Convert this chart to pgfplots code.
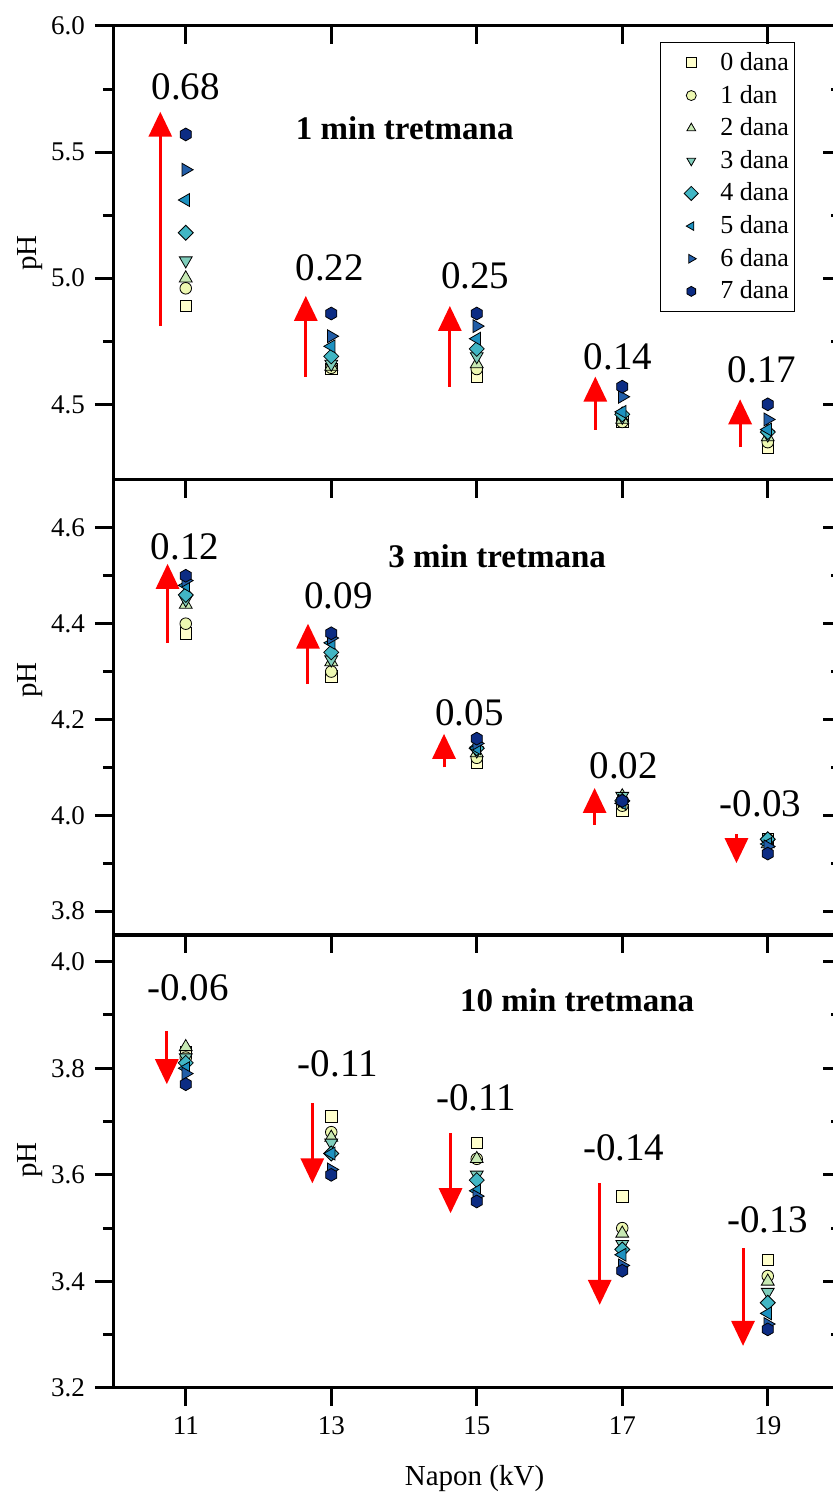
\documentclass[border=0pt]{standalone}
\usepackage{fontspec}
\setmainfont{Liberation Serif}
\usepackage{pgfplots}
\usepackage{pgfplotstable}
\pgfplotsset{compat=1.18}
\usetikzlibrary{arrows.meta}

\definecolor{c0}{HTML}{FFFFCC}
\definecolor{c1}{HTML}{EDF8B1}
\definecolor{c2}{HTML}{C7E9B4}
\definecolor{c3}{HTML}{7FCDBB}
\definecolor{c4}{HTML}{41B6C4}
\definecolor{c5}{HTML}{1D91C0}
\definecolor{c6}{HTML}{225EA8}
\definecolor{c7}{HTML}{0C2C84}

\pgfdeclareplotmark{hexagon*}{%
  \pgfpathmoveto{\pgfqpointpolar{90}{\pgfplotmarksize}}%
  \pgfpathlineto{\pgfqpointpolar{150}{\pgfplotmarksize}}%
  \pgfpathlineto{\pgfqpointpolar{210}{\pgfplotmarksize}}%
  \pgfpathlineto{\pgfqpointpolar{270}{\pgfplotmarksize}}%
  \pgfpathlineto{\pgfqpointpolar{330}{\pgfplotmarksize}}%
  \pgfpathlineto{\pgfqpointpolar{30}{\pgfplotmarksize}}%
  \pgfpathclose
  \pgfusepathqfillstroke}

\pgfplotstableread{
x d0 d1 d2 d3 d4 d5 d6 d7
11 4.89 4.96 5.00 5.07 5.18 5.31 5.43 5.57
13 4.64 4.645 4.65 4.66 4.69 4.73 4.77 4.86
15 4.61 4.64 4.66 4.69 4.72 4.76 4.81 4.86
17 4.43 4.43 4.44 4.45 4.46 4.47 4.53 4.57
19 4.33 4.35 4.37 4.38 4.39 4.40 4.44 4.50
}\tabA
\pgfplotstableread{
x d0 d1 d2 d3 d4 d5 d6 d7
11 4.38 4.40 4.44 4.45 4.46 4.48 4.49 4.50
13 4.29 4.30 4.32 4.325 4.34 4.36 4.37 4.38
15 4.11 4.12 4.13 4.135 4.14 4.14 4.15 4.16
17 4.01 4.02 4.04 4.04 4.03 4.025 4.03 4.03
19 3.95 3.95 3.94 3.94 3.95 3.94 3.935 3.92
}\tabB
\pgfplotstableread{
x d0 d1 d2 d3 d4 d5 d6 d7
11 3.83 3.82 3.84 3.82 3.81 3.80 3.79 3.77
13 3.71 3.68 3.67 3.66 3.64 3.64 3.61 3.60
15 3.66 3.63 3.63 3.60 3.59 3.57 3.56 3.55
17 3.56 3.50 3.49 3.47 3.46 3.45 3.43 3.42
19 3.44 3.41 3.40 3.38 3.36 3.34 3.32 3.31
}\tabC

\tikzset{
  ann/.style={font=\fontsize{19.5}{22}\selectfont},
  ttl/.style={font=\fontsize{16.5}{19}\selectfont\bfseries},
}

\pgfplotsset{
  s0/.style={draw=none, mark=square*, mark size=2.9pt, mark options={fill=c0, draw=black, line width=0.4pt}},
  s1/.style={draw=none, mark=*, mark size=2.9pt, mark options={fill=c1, draw=black, line width=0.4pt}},
  s2/.style={draw=none, mark=triangle*, mark size=3.7pt, mark options={fill=c2, draw=black, line width=0.4pt}},
  s3/.style={draw=none, mark=triangle*, mark size=3.7pt, mark options={fill=c3, draw=black, line width=0.4pt, rotate=180}},
  s4/.style={draw=none, mark=square*, mark size=2.65pt, mark options={fill=c4, draw=black, line width=0.4pt, rotate=45}},
  s5/.style={draw=none, mark=triangle*, mark size=3.7pt, mark options={fill=c5, draw=black, line width=0.4pt, rotate=90}},
  s6/.style={draw=none, mark=triangle*, mark size=3.7pt, mark options={fill=c6, draw=black, line width=0.4pt, rotate=270}},
  s7/.style={draw=none, mark=hexagon*, mark size=3.2pt, mark options={fill=c7, draw=black, line width=0.4pt}},
  arr/.style={red, line width=1.5pt, -{Triangle[width=11.5pt,length=12.5pt]}, forget plot},
  panel/.style={
    scale only axis, width=363.75pt,
    xmin=10, xmax=20,
    xtick={11,13,15,17,19},
    axis line style={line width=1.5pt},
    major tick length=9pt, minor tick length=5pt,
    every tick/.style={line width=1.5pt, black},
    minor y tick num=1,
    tick label style={font=\fontsize{13.5}{15}\selectfont},
    label style={font=\fontsize{14.5}{17}\selectfont},
    /pgf/number format/assume math mode=true,
    clip=false,
  },
  mainax/.style={panel, xtick pos=bottom, ytick pos=left, tick align=outside,
    yticklabel style={xshift=-1.5pt, /pgf/number format/.cd, fixed, fixed zerofill, precision=1},
    xticklabel style={yshift=-2pt}},
  overax/.style={panel, xtick pos=top, ytick pos=right, tick align=inside,
    xticklabels={}, yticklabels={}},
}

\begin{document}
\begin{tikzpicture}
% ---------------- top panel ----------------
\begin{axis}[mainax, at={(56.5pt,509.5pt)}, anchor=south west, height=227pt,
  ymin=4.2, ymax=6.0, ytick={4.5,5.0,5.5,6.0}, xticklabels={},
  ylabel={pH}, ylabel style={at={(axis description cs:-0.114,0.5)}, anchor=center},
  legend style={at={(0.938,0.965)}, anchor=north east, draw=black, line width=0.5pt,
    font=\fontsize{13}{15}\selectfont, row sep=1.8pt, inner xsep=1pt, inner ysep=3pt},
  legend image code/.code={\path[mark repeat=2,mark phase=2,#1,draw=none,mark size=2.5pt]
    plot coordinates {(0cm,0cm) (0.5cm,0cm) (0.94cm,0cm)};},
  legend cell align=left]
\addplot[s0] table[x=x,y=d0]{\tabA};
\addplot[s1] table[x=x,y=d1]{\tabA};
\addplot[s2] table[x=x,y=d2]{\tabA};
\addplot[s3] table[x=x,y=d3]{\tabA};
\addplot[s4] table[x=x,y=d4]{\tabA};
\addplot[s5] table[x=x,y=d5]{\tabA};
\addplot[s6] table[x=x,y=d6]{\tabA};
\addplot[s7] table[x=x,y=d7]{\tabA};
\legend{0 dana,1 dan,2 dana,3 dana,4 dana,5 dana,6 dana,7 dana}
\addplot[arr] coordinates {(10.65,4.81) (10.65,5.66)};
\addplot[arr] coordinates {(12.65,4.61) (12.65,4.93)};
\addplot[arr] coordinates {(14.63,4.57) (14.63,4.89)};
\addplot[arr] coordinates {(16.63,4.40) (16.63,4.61)};
\addplot[arr] coordinates {(18.62,4.33) (18.62,4.52)};
\node[ann] at (axis cs:11.0,5.76) {0.68};
\node[ann] at (axis cs:12.98,5.04) {0.22};
\node[ann] at (axis cs:14.98,5.01) {0.25};
\node[ann] at (axis cs:16.94,4.69) {0.14};
\node[ann] at (axis cs:18.92,4.635) {0.17};
\node[ttl] at (axis cs:14.01,5.595) {1 min tretmana};
\end{axis}
\begin{axis}[overax, at={(56.5pt,509.5pt)}, anchor=south west, height=227pt,
  ymin=4.2, ymax=6.0, ytick={4.5,5.0,5.5,6.0}]
\end{axis}
% ---------------- middle panel ----------------
\begin{axis}[mainax, at={(56.5pt,282pt)}, anchor=south west, height=227.5pt,
  ymin=3.75, ymax=4.7, ytick={3.8,4.0,4.2,4.4,4.6}, xticklabels={},
  ylabel={pH}, ylabel style={at={(axis description cs:-0.114,0.56)}, anchor=center}]
\addplot[s0] table[x=x,y=d0]{\tabB};
\addplot[s1] table[x=x,y=d1]{\tabB};
\addplot[s2] table[x=x,y=d2]{\tabB};
\addplot[s3] table[x=x,y=d3]{\tabB};
\addplot[s4] table[x=x,y=d4]{\tabB};
\addplot[s5] table[x=x,y=d5]{\tabB};
\addplot[s6] table[x=x,y=d6]{\tabB};
\addplot[s7] table[x=x,y=d7]{\tabB};
\addplot[arr] coordinates {(10.75,4.36) (10.75,4.525)};
\addplot[arr] coordinates {(12.68,4.274) (12.68,4.40)};
\addplot[arr] coordinates {(14.55,4.10) (14.55,4.17)};
\addplot[arr] coordinates {(16.62,3.98) (16.62,4.057)};
\addplot[arr] coordinates {(18.57,3.96) (18.57,3.90)};
\node[ann] at (axis cs:10.99,4.56) {0.12};
\node[ann] at (axis cs:13.1,4.458) {0.09};
\node[ann] at (axis cs:14.9,4.214) {0.05};
\node[ann] at (axis cs:17.02,4.103) {0.02};
\node[ann] at (axis cs:18.9,4.023) {-0.03};
\node[ttl] at (axis cs:15.28,4.54) {3 min tretmana};
\end{axis}
\begin{axis}[overax, at={(56.5pt,282pt)}, anchor=south west, height=227.5pt,
  ymin=3.75, ymax=4.7, ytick={3.8,4.0,4.2,4.4,4.6}]
\end{axis}
% ---------------- bottom panel ----------------
\begin{axis}[mainax, at={(56.5pt,55.5pt)}, anchor=south west, height=226.5pt,
  ymin=3.2, ymax=4.05, ytick={3.2,3.4,3.6,3.8,4.0},
  ylabel={pH}, ylabel style={at={(axis description cs:-0.114,0.503)}, anchor=center},
  xlabel={Napon (kV)}, xlabel style={at={(axis description cs:0.497,-0.199)}, anchor=center}]
\addplot[s0] table[x=x,y=d0]{\tabC};
\addplot[s1] table[x=x,y=d1]{\tabC};
\addplot[s2] table[x=x,y=d2]{\tabC};
\addplot[s3] table[x=x,y=d3]{\tabC};
\addplot[s4] table[x=x,y=d4]{\tabC};
\addplot[s5] table[x=x,y=d5]{\tabC};
\addplot[s6] table[x=x,y=d6]{\tabC};
\addplot[s7] table[x=x,y=d7]{\tabC};
\addplot[arr] coordinates {(10.74,3.87) (10.74,3.77)};
\addplot[arr] coordinates {(12.74,3.734) (12.74,3.584)};
\addplot[arr] coordinates {(14.64,3.678) (14.64,3.528)};
\addplot[arr] coordinates {(16.69,3.584) (16.69,3.356)};
\addplot[arr] coordinates {(18.66,3.462) (18.66,3.279)};
\node[ann] at (axis cs:11.03,3.951) {-0.06};
\node[ann] at (axis cs:13.09,3.809) {-0.11};
\node[ann] at (axis cs:14.99,3.745) {-0.11};
\node[ann] at (axis cs:17.02,3.65) {-0.14};
\node[ann] at (axis cs:19.0,3.515) {-0.13};
\node[ttl] at (axis cs:16.38,3.927) {10 min tretmana};
\end{axis}
\begin{axis}[overax, at={(56.5pt,55.5pt)}, anchor=south west, height=226.5pt,
  ymin=3.2, ymax=4.05, ytick={3.2,3.4,3.6,3.8,4.0}]
\end{axis}
\pgfresetboundingbox
\useasboundingbox (0,0) rectangle (416pt,749.5pt);
\end{tikzpicture}
\end{document}
